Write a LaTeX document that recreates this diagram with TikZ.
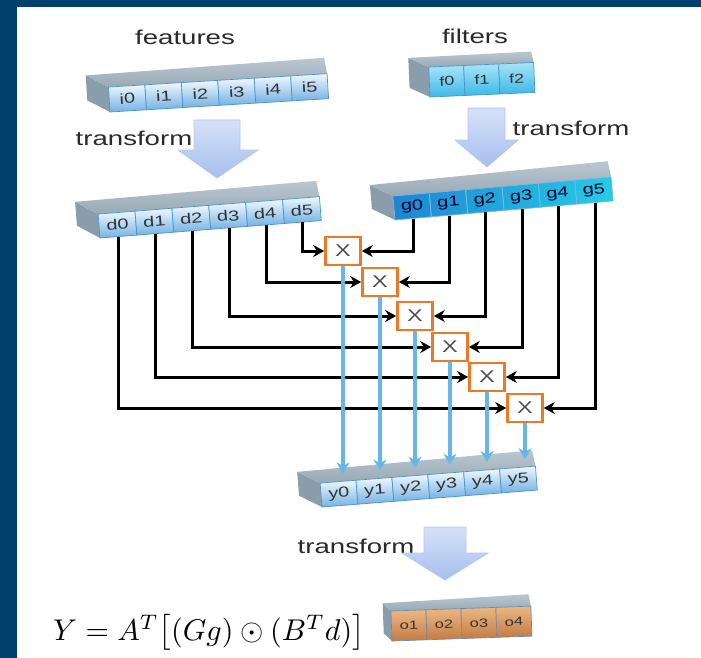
\documentclass[tikz,border=0pt]{standalone}
\usepackage[no-math]{fontspec}
\setmainfont{Liberation Sans}
\usepackage{graphicx}
\usepackage{tikz}
\usetikzlibrary{arrows.meta}

\definecolor{frameblue}{HTML}{003F6E}
\definecolor{txtgray}{HTML}{2A2A2A}
\definecolor{topback}{HTML}{BAC7D0}
\definecolor{topfront}{HTML}{98AAB6}
\definecolor{sideface}{HTML}{8A9DAA}
\definecolor{paletop}{HTML}{EEF7FD}
\definecolor{palebot}{HTML}{74B2E4}
\definecolor{cellline}{HTML}{4C92CC}
\definecolor{cyantop}{HTML}{A6E4F8}
\definecolor{cyanbot}{HTML}{3DB9E8}
\definecolor{gleft}{HTML}{1C86D2}
\definecolor{gright}{HTML}{27CBE6}
\definecolor{orgtop}{HTML}{EBB784}
\definecolor{orgbot}{HTML}{C47C44}
\definecolor{multline}{HTML}{EA7A27}
\definecolor{flowblue}{HTML}{66B6E6}
\definecolor{arrtop}{HTML}{D6E1F8}
\definecolor{arrbot}{HTML}{A6BFEE}
\definecolor{arrline}{HTML}{B3C7EE}

\newcommand{\wide}[1]{\scalebox{1.38}[1]{#1}}

\tikzset{
    title/.style={text=txtgray, font=\fontsize{20}{24}\selectfont},
    cellbox/.style={transform shape, inner sep=0pt, minimum height=24pt,
        draw=cellline, line width=0.7pt, text=black!80,
        font=\fontsize{14.5}{17}\selectfont},
    palecell/.style={cellbox, top color=paletop, bottom color=palebot},
    cyancell/.style={cellbox, top color=cyantop, bottom color=cyanbot,
        font=\fontsize{13}{15}\selectfont},
    gcell/.style={cellbox, draw=gleft!60!white, text=black!85!blue},
    orgcell/.style={cellbox, top color=orgtop, bottom color=orgbot,
        draw=cellline!70!orgbot, font=\fontsize{12}{14}\selectfont},
    topface/.style={top color=topback, bottom color=topfront},
    mult/.style={draw=multline, line width=2.6pt, fill=white,
        minimum width=35pt, minimum height=28pt, inner sep=0pt,
        text=black!70, font=\fontsize{17}{20}\selectfont},
    wire/.style={line width=3pt, -{Stealth[length=11pt,width=12pt]}},
    flow/.style={flowblue, line width=3.8pt,
        -{Stealth[length=11pt,width=13pt]}, shorten >=8pt},
    bigarrow/.style={top color=arrtop, bottom color=arrbot, draw=arrline,
        line width=0.8pt}
}

\begin{document}
\begin{tikzpicture}[x=1pt, y=1pt]
    \useasboundingbox (0,0) rectangle (701,-658);
    \fill[white] (0,0) rectangle (701,-658);
    \fill[frameblue] (0,0) rectangle (701,-7);
    \fill[frameblue] (0,0) rectangle (17,-658);

    % input rows
    \node[title] (featlbl) at (185,-37) {\wide{features}};
    \node[title] (filtlbl) at (475,-36) {\wide{filters}};

    \begin{scope}[shift={(110,-112)}, rotate=3.5]
        \fill[sideface] (0,0) -- (0,25) -- (-22,38) -- (-22,13) -- cycle;
        \shade[topface] (0,25) -- (-22,38) -- (217,41) -- (219,25) -- cycle;
        \node[palecell, minimum width=36.5pt, minimum height=25pt] (i0) at (18.25,12.5) {\wide{i0}};
        \node[palecell, minimum width=36.5pt, minimum height=25pt] (i1) at (54.75,12.5) {\wide{i1}};
        \node[palecell, minimum width=36.5pt, minimum height=25pt] (i2) at (91.25,12.5) {\wide{i2}};
        \node[palecell, minimum width=36.5pt, minimum height=25pt] (i3) at (127.75,12.5) {\wide{i3}};
        \node[palecell, minimum width=36.5pt, minimum height=25pt] (i4) at (164.25,12.5) {\wide{i4}};
        \node[palecell, minimum width=36.5pt, minimum height=25pt] (i5) at (200.75,12.5) {\wide{i5}};
    \end{scope}

    \begin{scope}[shift={(430,-97)}, rotate=2.5]
        \fill[sideface] (0,0) -- (0,30) -- (-20,40) -- (-20,10) -- cycle;
        \shade[topface] (0,30) -- (-20,40) -- (103,41) -- (105,30) -- cycle;
        \node[cyancell, minimum width=35pt, minimum height=30pt] (f0) at (17.5,15) {\wide{f0}};
        \node[cyancell, minimum width=35pt, minimum height=30pt] (f1) at (52.5,15) {\wide{f1}};
        \node[cyancell, minimum width=35pt, minimum height=30pt] (f2) at (87.5,15) {\wide{f2}};
    \end{scope}

    % transformed rows
    \begin{scope}[shift={(100,-238)}, rotate=4.5]
        \fill[sideface] (0,0) -- (0,24) -- (-22,38) -- (-22,14) -- cycle;
        \shade[topface] (0,24) -- (-22,38) -- (220,40) -- (222,24) -- cycle;
        \node[palecell, minimum width=37pt] (d0) at (18.5,12) {\wide{d0}};
        \node[palecell, minimum width=37pt] (d1) at (55.5,12) {\wide{d1}};
        \node[palecell, minimum width=37pt] (d2) at (92.5,12) {\wide{d2}};
        \node[palecell, minimum width=37pt] (d3) at (129.5,12) {\wide{d3}};
        \node[palecell, minimum width=37pt] (d4) at (166.5,12) {\wide{d4}};
        \node[palecell, minimum width=37pt] (d5) at (203.5,12) {\wide{d5}};
    \end{scope}

    \begin{scope}[shift={(395,-220)}, rotate=5]
        \fill[sideface] (0,0) -- (0,24) -- (-22,37) -- (-22,13) -- cycle;
        \shade[topface] (0,24) -- (-22,37) -- (217,40) -- (219,24) -- cycle;
        \shade[left color=gleft, right color=gright] (0,0) rectangle (219,24);
        \node[gcell, minimum width=36.5pt] (g0) at (18.25,12) {\wide{g0}};
        \node[gcell, minimum width=36.5pt] (g1) at (54.75,12) {\wide{g1}};
        \node[gcell, minimum width=36.5pt] (g2) at (91.25,12) {\wide{g2}};
        \node[gcell, minimum width=36.5pt] (g3) at (127.75,12) {\wide{g3}};
        \node[gcell, minimum width=36.5pt] (g4) at (164.25,12) {\wide{g4}};
        \node[gcell, minimum width=36.5pt] (g5) at (200.75,12) {\wide{g5}};
    \end{scope}

    \node[title] (tr1) at (134,-138) {\wide{transform}};
    \node[title] (tr2) at (571,-128) {\wide{transform}};
    \shade[bigarrow] (194,-120) -- (240,-120) -- (240,-150) -- (258,-150)
        -- (217,-178) -- (178,-150) -- (194,-150) -- cycle;
    \shade[bigarrow] (468,-108) -- (505,-108) -- (505,-140) -- (518,-140)
        -- (487,-167) -- (455,-140) -- (468,-140) -- cycle;

    % output row
    \begin{scope}[shift={(322,-507)}, rotate=4.5]
        \fill[sideface] (0,0) -- (0,24) -- (-22,37) -- (-22,13) -- cycle;
        \shade[topface] (0,24) -- (-22,37) -- (214,40) -- (216,24) -- cycle;
        \node[palecell, minimum width=36pt] (y0) at (18,12) {\wide{y0}};
        \node[palecell, minimum width=36pt] (y1) at (54,12) {\wide{y1}};
        \node[palecell, minimum width=36pt] (y2) at (90,12) {\wide{y2}};
        \node[palecell, minimum width=36pt] (y3) at (126,12) {\wide{y3}};
        \node[palecell, minimum width=36pt] (y4) at (162,12) {\wide{y4}};
        \node[palecell, minimum width=36pt] (y5) at (198,12) {\wide{y5}};
    \end{scope}

    % element-wise products
    \node[mult] (m1) at (343,-251) {\wide{X}};
    \node[mult] (m2) at (380,-282) {\wide{X}};
    \node[mult] (m3) at (415,-316) {\wide{X}};
    \node[mult] (m4) at (450,-347) {\wide{X}};
    \node[mult] (m5) at (487,-377) {\wide{X}};
    \node[mult] (m6) at (525,-408) {\wide{X}};

    \draw[wire] (d5.south) |- (m1.west);
    \draw[wire] (d4.south) |- (m2.west);
    \draw[wire] (d3.south) |- (m3.west);
    \draw[wire] (d2.south) |- (m4.west);
    \draw[wire] (d1.south) |- (m5.west);
    \draw[wire] (d0.south) |- (m6.west);

    \draw[wire] (g0.south) |- (m1.east);
    \draw[wire] (g1.south) |- (m2.east);
    \draw[wire] (g2.south) |- (m3.east);
    \draw[wire] (g3.south) |- (m4.east);
    \draw[wire] (g4.south) |- (m5.east);
    \draw[wire] (g5.south) |- (m6.east);

    \draw[flow] (m1.south) -- (m1.south |- y0.north);
    \draw[flow] (m2.south) -- (m2.south |- y1.north);
    \draw[flow] (m3.south) -- (m3.south |- y2.north);
    \draw[flow] (m4.south) -- (m4.south |- y3.north);
    \draw[flow] (m5.south) -- (m5.south |- y4.north);
    \draw[flow] (m6.south) -- (m6.south |- y5.north);
    \node[mult] at (m1) {\wide{X}};
    \node[mult] at (m2) {\wide{X}};
    \node[mult] at (m3) {\wide{X}};
    \node[mult] at (m4) {\wide{X}};
    \node[mult] at (m5) {\wide{X}};
    \node[mult] at (m6) {\wide{X}};

    % final transform
    \node[title] (tr3) at (356,-546) {\wide{transform}};
    \shade[bigarrow] (424,-527) -- (466,-527) -- (466,-553) -- (488,-553)
        -- (445,-580) -- (402,-553) -- (424,-553) -- cycle;

    \begin{scope}[shift={(392,-641)}, rotate=2]
        \fill[sideface] (0,0) -- (0,30) -- (-8,38) -- (-8,8) -- cycle;
        \shade[topface] (0,30) -- (-8,38) -- (138,42) -- (140,30) -- cycle;
        \node[orgcell, minimum width=35pt, minimum height=30pt] (o1) at (17.5,15) {\wide{o1}};
        \node[orgcell, minimum width=35pt, minimum height=30pt] (o2) at (52.5,15) {\wide{o2}};
        \node[orgcell, minimum width=35pt, minimum height=30pt] (o3) at (87.5,15) {\wide{o3}};
        \node[orgcell, minimum width=35pt, minimum height=30pt] (o4) at (122.5,15) {\wide{o4}};
    \end{scope}

    \node[anchor=base west, inner sep=0pt] (eq) at (53,-640)
        {\scalebox{3.0}{$Y = A^T\big[(Gg)\odot(B^Td)\big]$}};
\end{tikzpicture}
\end{document}
